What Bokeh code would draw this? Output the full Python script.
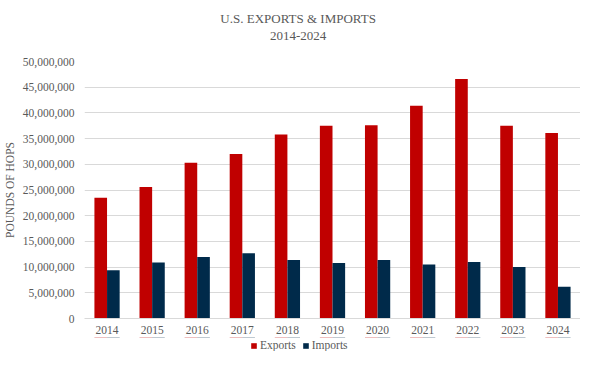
from bokeh.plotting import figure
from bokeh.layouts import column
from bokeh.models import (ColumnDataSource, FactorRange, Range1d, FixedTicker,
                          NumeralTickFormatter, Legend, LegendItem, Label)
from bokeh.transform import dodge
from bokeh.embed import file_html
from bokeh.resources import INLINE

years = ["2014", "2015", "2016", "2017", "2018", "2019", "2020", "2021", "2022", "2023", "2024"]
exports = [23500000, 25600000, 30300000, 32000000, 35800000, 37500000, 37600000,
           41400000, 46600000, 37500000, 36100000]
imports = [9400000, 10900000, 11950000, 12700000, 11400000, 10800000, 11400000,
           10500000, 11000000, 10000000, 6200000]
y_ticks = [0, 5000000, 10000000, 15000000, 20000000, 25000000, 30000000,
           35000000, 40000000, 45000000, 50000000]
title_lines = ["U.S. EXPORTS & IMPORTS", "2014-2024"]
series_names = ["Exports", "Imports"]

FONT = "Liberation Serif"
TXT = "#595959"
RED = "#C00000"
NAVY = "#002A4A"
W = 580
LEFT = 82

src = ColumnDataSource(dict(years=years, exports=exports, imports=imports))
xr = FactorRange(factors=years)


def blank(height, x_range, y_range):
    f = figure(width=W, height=height, x_range=x_range, y_range=y_range,
               output_backend="svg", toolbar_location=None,
               x_axis_location=None, y_axis_location=None,
               min_border_left=LEFT, min_border_right=0,
               min_border_top=0, min_border_bottom=0)
    f.outline_line_color = None
    f.xgrid.grid_line_color = None
    f.ygrid.grid_line_color = None
    return f


# ---- header with the two title lines ----
HH = 57
header = blank(HH, Range1d(88, 586), Range1d(HH, 0))
for txt, yy in zip(title_lines, [17.5, 35]):
    header.add_layout(Label(x=302.5, y=yy, text=txt, text_align="center",
                            text_baseline="middle", text_font=FONT,
                            text_font_size="13px", text_color=TXT))

# ---- main chart ----
p = figure(width=W, height=280, x_range=xr,
           y_range=Range1d(0, 50000000), output_backend="svg",
           toolbar_location=None, min_border_left=LEFT, min_border_right=0,
           min_border_top=4, min_border_bottom=19)

p.vbar(x=dodge("years", -0.14, range=xr), top="exports", width=0.28,
       source=src, fill_color=RED, line_color=None)
p.vbar(x=dodge("years", 0.14, range=xr), top="imports", width=0.28,
       source=src, fill_color=NAVY, line_color=None)

p.outline_line_color = None
p.xgrid.grid_line_color = None
p.ygrid.grid_line_color = "#D9D9D9"
p.ygrid.grid_line_width = 1

p.yaxis.ticker = FixedTicker(ticks=y_ticks)
p.yaxis.formatter = NumeralTickFormatter(format="0,0")
p.yaxis.axis_line_color = None
p.yaxis.major_tick_line_color = None
p.yaxis.minor_tick_line_color = None
p.yaxis.major_tick_out = 0
p.yaxis.major_label_standoff = 10
p.yaxis.axis_label = "POUNDS OF HOPS"
p.yaxis.axis_label_standoff = 4
p.yaxis.axis_label_text_font_style = "normal"

p.xaxis.axis_line_color = "#D9D9D9"
p.xaxis.major_tick_line_color = None
p.xaxis.minor_tick_line_color = None
p.xaxis.major_tick_out = 0
p.xaxis.major_label_standoff = 7

for ax in (p.xaxis, p.yaxis):
    ax.major_label_text_font = FONT
    ax.major_label_text_font_size = "11.5px"
    ax.major_label_text_color = TXT
    ax.axis_label_text_font = FONT
    ax.axis_label_text_font_size = "11.5px"
    ax.axis_label_text_color = TXT

# ---- legend strip: zero-height proxy bars far outside its y range; only swatches show ----
LH = 14
leg = blank(LH, xr, Range1d(-1.2e8, -1.0e8))
l1 = leg.vbar(x=dodge("years", -0.14, range=xr), top="exports", bottom="exports",
              width=0.28, source=src, fill_color=RED, line_color=None)
l2 = leg.vbar(x=dodge("years", 0.14, range=xr), top="imports", bottom="imports",
              width=0.28, source=src, fill_color=NAVY, line_color=None)
legend = Legend(items=[LegendItem(label=series_names[0], renderers=[l1]),
                       LegendItem(label=series_names[1], renderers=[l2])],
                orientation="horizontal", location=(166, 0))
legend.label_text_font = FONT
legend.label_text_font_size = "11.5px"
legend.label_text_color = TXT
legend.glyph_width = 7
legend.glyph_height = 7
legend.label_standoff = 3
legend.spacing = 6
legend.padding = 0
legend.margin = 0
legend.border_line_color = None
legend.background_fill_alpha = 0
legend.label_height = 12
leg.add_layout(legend)

layout = column(header, p, leg, spacing=0)
open("out.html", "w").write(file_html(layout, INLINE))
